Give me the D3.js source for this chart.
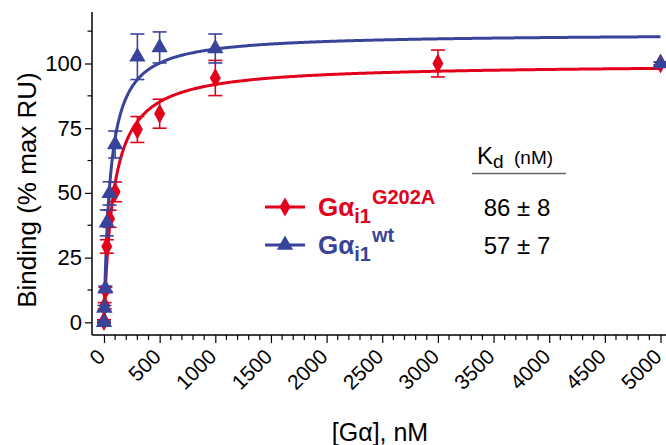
<!DOCTYPE html>
<html><head><meta charset="utf-8">
<script src="https://cdn.jsdelivr.net/npm/d3@7"></script>
<style>
body{margin:0;background:#fff;}
svg{display:block;font-family:"Liberation Sans",Arial,sans-serif;}
</style></head>
<body><svg id="c" width="666" height="445"></svg>
<script>
// ---- data ----
const mutConc = [0, 6.25, 12.5, 25, 50, 100, 300, 500, 1000, 3000, 5000];
const mutBind = [0.5, 6.4, 12.5, 29.3, 40, 50.4, 74.5, 80.6, 94.4, 100, 100];
const mutErr  = [0.5, 1.2, 1.0, 2.6, 3.3, 3.8, 5.0, 5.6, 6.8, 5.2, 0.5];
const wtConc  = [0, 3.125, 12.5, 25, 50, 100, 300, 500, 1000, 5000];
const wtBind  = [0, 5.5, 13, 38.4, 49.8, 68.7, 102.6, 106.2, 105.8, 100];
const wtErr   = [0.5, 1.0, 1.0, 5.0, 4.5, 5.2, 8.8, 6.0, 5.6, 0.5];
const kdValues = [86, 57];           // nM, fitted Kd
const kdErrors = [8, 7];
const bmaxValues = [99.8, 111.6];    // fitted Bmax (% max RU)
const xTicks = [0,500,1000,1500,2000,2500,3000,3500,4000,4500,5000];
const yTicks = [0,25,50,75,100];

const RED = "#e3001b", BLUE = "#38449a";
const svg = d3.select("#c");
const x = d3.scaleLinear().domain([0,5000]).range([104,660.5]);
const y = d3.scaleLinear().domain([0,100]).range([322.3,63.5]);
const xAxisY = 335, yAxisX = 92;

// axes lines
svg.append("line").attr("x1",yAxisX).attr("x2",yAxisX).attr("y1",12).attr("y2",xAxisY)
  .attr("stroke","#000").attr("stroke-width",1.5);
svg.append("line").attr("x1",yAxisX).attr("x2",666).attr("y1",xAxisY).attr("y2",xAxisY)
  .attr("stroke","#000").attr("stroke-width",1.5);

// y axis
const yAx = svg.append("g").attr("transform",`translate(${yAxisX},0)`)
  .call(d3.axisLeft(y).tickValues(yTicks).tickSize(7).tickPadding(3).tickFormat(d3.format("d")));
yAx.select(".domain").remove();
yAx.selectAll("line").attr("stroke-width",1.2);
yAx.selectAll("text").attr("font-size",22).attr("font-family","Liberation Sans, Arial, sans-serif").attr("fill","#000");
const yMinor = d3.range(12.5,113,25);
svg.append("g").selectAll("line").data(yMinor).join("line")
  .attr("x1",yAxisX-4.5).attr("x2",yAxisX).attr("y1",d=>y(d)).attr("y2",d=>y(d))
  .attr("stroke","#000").attr("stroke-width",1.2);

// x axis
const xAx = svg.append("g").attr("transform",`translate(0,${xAxisY})`)
  .call(d3.axisBottom(x).tickValues(xTicks).tickSize(8).tickFormat(d3.format("d")));
xAx.select(".domain").remove();
xAx.selectAll("line").attr("stroke-width",1.2);
xAx.selectAll("text").attr("font-size",21).attr("font-family","Liberation Sans, Arial, sans-serif").attr("fill","#000")
  .attr("text-anchor","end").attr("dy",null).attr("y",0)
  .attr("transform","translate(2,23) rotate(-45)");
const xMinor = d3.range(100,5000,100).filter(d=>d%500!==0);
svg.append("g").selectAll("line").data(xMinor).join("line")
  .attr("x1",d=>x(d)).attr("x2",d=>x(d)).attr("y1",xAxisY).attr("y2",xAxisY+5)
  .attr("stroke","#000").attr("stroke-width",1.2);

// axis titles
svg.append("text").attr("transform","translate(36,190) rotate(-90)").attr("text-anchor","middle")
  .attr("font-size",26).text("Binding (% max RU)");
svg.append("text").attr("x",380).attr("y",441).attr("text-anchor","middle")
  .attr("font-size",25).text("[Gα], nM");

// fitted curves
const xs = d3.range(0,200,0.5).concat(d3.range(200,5001,10));
const line = d3.line().x(d=>x(d[0])).y(d=>y(d[1]));
function curve(i,color){
  const pts = xs.map(c=>[c, bmaxValues[i]*c/(kdValues[i]+c)]);
  svg.append("path").attr("d",line(pts)).attr("fill","none").attr("stroke",color).attr("stroke-width",3);
}
function series(conc,bind,err,color,shape){
  const g = svg.append("g");
  conc.forEach((c,i)=>{
    const cx=x(c), t=y(bind[i]+err[i]), b=y(bind[i]-err[i]);
    g.append("line").attr("x1",cx).attr("x2",cx).attr("y1",t).attr("y2",b).attr("stroke",color).attr("stroke-width",1.6);
    [t,b].forEach(v=>g.append("line").attr("x1",cx-7).attr("x2",cx+7).attr("y1",v).attr("y2",v).attr("stroke",color).attr("stroke-width",1.6));
  });
  const sym = d3.symbol().type(shape==="tri"?d3.symbolTriangle:d3.symbolDiamond).size(shape==="tri"?115:105);
  g.selectAll("path").data(conc).join("path")
    .attr("d",sym).attr("fill",color)
    .attr("transform",(c,i)=>`translate(${x(c)},${y(bind[i])})${shape==="tri"?"":" scale(1,1.05)"}`);
}
curve(0,RED);
curve(1,BLUE);
series(mutConc,mutBind,mutErr,RED,"dia");
series(wtConc,wtBind,wtErr,BLUE,"tri");

// legend
const legend = [
  {color:RED, shape:"dia", sup:"G202A", y:207},
  {color:BLUE, shape:"tri", sup:"wt", y:245}
];
legend.forEach((l,i)=>{
  svg.append("line").attr("x1",265).attr("x2",305).attr("y1",l.y).attr("y2",l.y).attr("stroke",l.color).attr("stroke-width",3);
  svg.append("path").attr("d",d3.symbol().type(l.shape==="tri"?d3.symbolTriangle:d3.symbolDiamond).size(l.shape==="tri"?115:105))
    .attr("transform",`translate(285,${l.y})`).attr("fill",l.color);
  const t = svg.append("text").attr("x",318).attr("y",l.y+9).attr("fill",l.color).attr("font-weight","bold").attr("font-size",26);
  t.append("tspan").text("Gα");
  t.append("tspan").attr("font-size",20).attr("dy",7).text("i1");
  t.append("tspan").attr("font-size",20).attr("dy",-19).attr("dx",1).text(l.sup);
  svg.append("text").attr("x",517).attr("y",l.y+9).attr("text-anchor","middle").attr("font-size",24)
    .text(`${kdValues[i]} ± ${kdErrors[i]}`);
});
// Kd header
const h = svg.append("text").attr("x",477).attr("y",164).attr("font-size",24);
h.append("tspan").text("K");
h.append("tspan").attr("font-size",19).attr("dy",4).text("d");
h.append("tspan").attr("font-size",19).attr("dy",-4).attr("x",514).text("(nM)");
svg.append("line").attr("x1",472).attr("x2",566).attr("y1",173.5).attr("y2",173.5).attr("stroke","#666").attr("stroke-width",1.5);
</script></body></html>
